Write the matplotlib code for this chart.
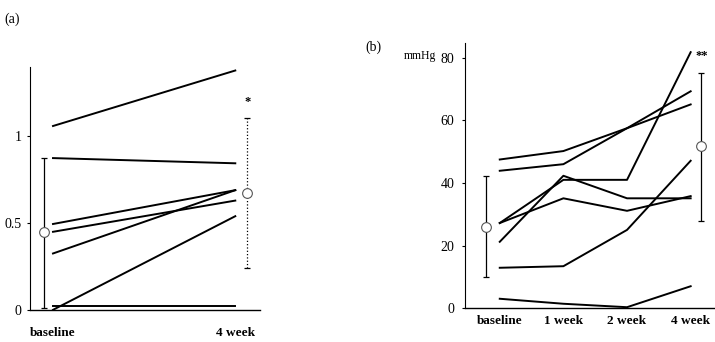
import numpy as np
import matplotlib.pyplot as plt

plt.rcParams['font.family'] = ['Liberation Serif', 'DejaVu Serif']

# panel (a): baseline vs 4 week
a_labels = ['baseline', '4 week']
a_series = [
    [1.06, 1.38],
    [0.875, 0.845],
    [0.495, 0.69],
    [0.45, 0.63],
    [0.325, 0.69],
    [0.0, 0.54],
    [0.022, 0.022],
]
a_mean = [0.45, 0.675]
a_low = [0.01, 0.24]
a_high = [0.875, 1.105]

# panel (b): mmHg over four time points
b_labels = ['baseline', '1 week', '2 week', '4 week']
b_series = [
    [47.5, 50.2, 57.5, 69.3],
    [43.9, 46.0, 57.5, 65.1],
    [21.2, 42.3, 35.1, 35.1],
    [27.2, 41.0, 41.0, 81.8],
    [27.2, 35.1, 31.1, 35.8],
    [12.9, 13.4, 25.0, 47.1],
    [3.0, 1.4, 0.3, 7.0],
]
b_mean = [25.9, 51.8]
b_low = [9.9, 28.0]
b_high = [42.2, 75.2]

fig = plt.figure(figsize=(7.15, 3.42), dpi=100)

def style(ax):
    for s in ['top', 'right']:
        ax.spines[s].set_visible(False)
    ax.spines['left'].set_linewidth(0.8)
    ax.spines['bottom'].set_linewidth(1.0)
    ax.tick_params(axis='y', length=2.5, width=0.8, labelsize=10)
    ax.tick_params(axis='x', length=0)
    for t in ax.get_xticklabels():
        t.set_fontweight('bold')
        t.set_fontsize(9.5)

def summary(ax, xs, mean, low, high, styles):
    for x, m, lo, hi, ls in zip(xs, mean, low, high, styles):
        eb = ax.errorbar([x], [m], yerr=[[m - lo], [hi - m]], fmt='none',
                         ecolor='black', elinewidth=0.9, capsize=2, capthick=0.9)
        eb[2][0].set_linestyle(ls)
        ax.plot([x], [m], marker='o', ms=7, mfc='white', mec='#555555', mew=0.8,
                ls='none', zorder=5)

# ---- (a)
ax1 = fig.add_axes([0.042, 0.094, 0.322, 0.71])
xa = np.arange(len(a_labels))
for s in a_series:
    ax1.plot(xa, s, color='black', lw=1.4)
ax1.set_xlim(-0.126, 1.137)
ax1.set_ylim(0, 1.4)
ax1.set_yticks([0, 0.5, 1])
ax1.set_yticklabels(['0', '0.5', '1'])
ax1.set_xticks(xa)
ax1.set_xticklabels(a_labels)
ax1.tick_params(axis='x', pad=12)
style(ax1)
ex_a = [-0.05, 1.066]
summary(ax1, ex_a, a_mean, a_low, a_high, ['-', ':'])
ax1.text(ex_a[1], 1.2, '*', ha='center', va='center', fontsize=9, fontweight='bold')
fig.text(0.006, 0.945, '(a)', fontsize=10, va='center')

# ---- (b)
ax2 = fig.add_axes([0.650, 0.099, 0.348, 0.775])
xb = np.arange(len(b_labels))
for s in b_series:
    ax2.plot(xb, s, color='black', lw=1.4)
ax2.set_xlim(-0.55, 3.36)
ax2.set_ylim(0, 84.7)
ax2.set_yticks([0, 20, 40, 60, 80])
ax2.set_xticks(xb)
ax2.set_xticklabels(b_labels)
ax2.tick_params(axis='x', pad=5)
ax2.tick_params(axis='y', pad=5)
style(ax2)
ex_b = [-0.22, 3.17]
summary(ax2, ex_b, b_mean, b_low, b_high, ['-', '-'])
ax2.text(ex_b[1], 80.5, '**', ha='center', va='center', fontsize=9, fontweight='bold')
fig.text(0.511, 0.862, '(b)', fontsize=10, va='center')
fig.text(0.565, 0.835, 'mmHg', fontsize=8.5, va='center')

fig.savefig('out.png', dpi=100)
